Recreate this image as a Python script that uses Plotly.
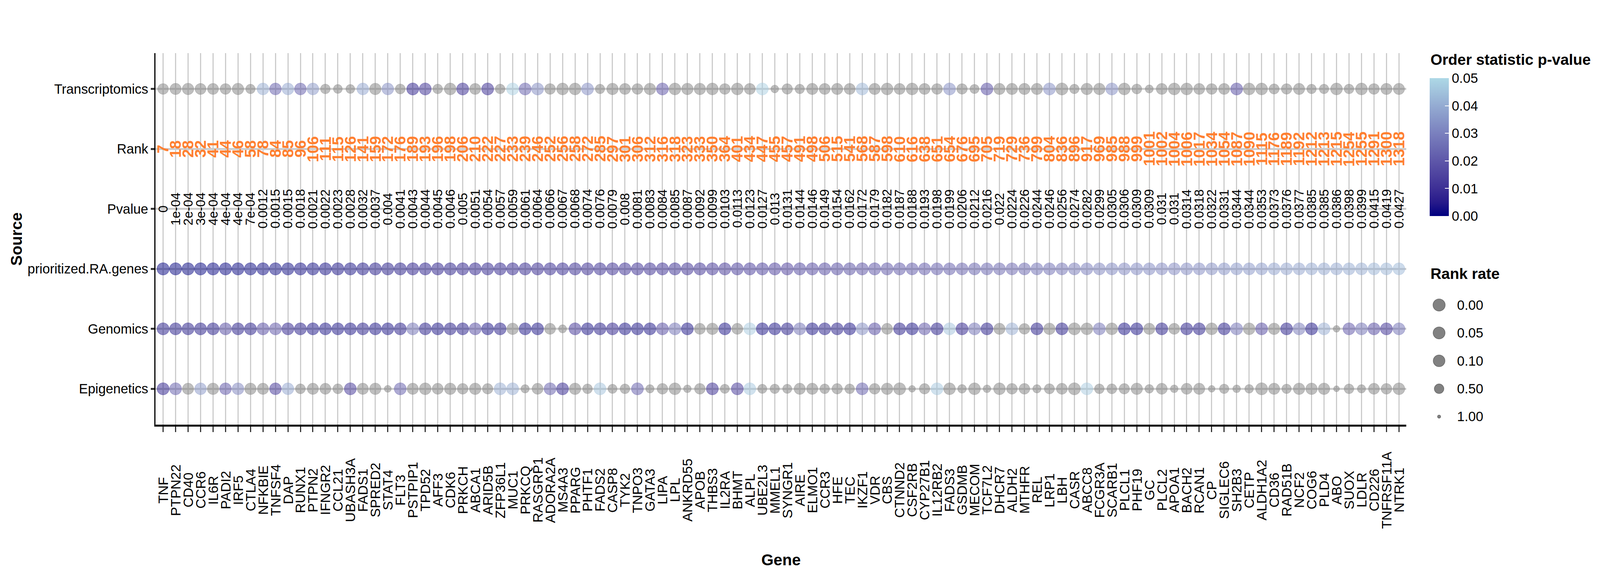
import numpy as np
import plotly.graph_objects as go

FONT = "Liberation Sans, Arial, sans-serif"

genes = ["TNF", "PTPN22", "CD40", "CCR6", "IL6R", "PADI2", "IRF5", "CTLA4", "NFKBIE", "TNFSF4",
         "DAP", "RUNX1", "PTPN2", "IFNGR2", "CCL21", "UBASH3A", "FADS1", "SPRED2", "STAT4", "FLT3",
         "PSTPIP1", "TPD52", "AFF3", "CDK6", "PRKCH", "ABCA1", "ARID5B", "ZFP36L1", "MUC1", "PRKCQ",
         "RASGRP1", "ADORA2A", "MS4A3", "PPARG", "PHTF1", "FADS2", "CASP8", "TYK2", "TNPO3", "GATA3",
         "LIPA", "LPL", "ANKRD55", "APOB", "THBS3", "IL2RA", "BHMT", "ALPL", "UBE2L3", "MMEL1",
         "SYNGR1", "AIRE", "ELMO1", "CCR3", "HFE", "TEC", "IKZF1", "VDR", "CBS", "CTNND2",
         "CSF2RB", "CYP27B1", "IL12RB2", "FADS3", "GSDMB", "MECOM", "TCF7L2", "DHCR7", "ALDH2", "MTHFR",
         "REL", "LRP1", "LBH", "CASR", "ABCC8", "FCGR3A", "SCARB1", "PLCL1", "PHF19", "GC",
         "PLCL2", "APOA1", "BACH2", "RCAN1", "CP", "SIGLEC6", "SH2B3", "CETP", "ALDH1A2", "CD36",
         "RAD51B", "NCF2", "COG6", "PLD4", "ABO", "SUOX", "LDLR", "CD226", "TNFRSF11A", "NTRK1"]

pvalue_labels = ["0", "1e-04", "2e-04", "3e-04", "4e-04", "4e-04", "4e-04", "7e-04", "0.0012", "0.0015",
                 "0.0015", "0.0018", "0.0021", "0.0022", "0.0023", "0.0028", "0.0032", "0.0037", "0.004", "0.0041",
                 "0.0043", "0.0044", "0.0045", "0.0046", "0.005", "0.0051", "0.0054", "0.0057", "0.0059", "0.0061",
                 "0.0064", "0.0066", "0.0067", "0.0068", "0.0074", "0.0076", "0.0079", "0.008", "0.0081", "0.0083",
                 "0.0084", "0.0085", "0.0087", "0.0092", "0.0099", "0.0103", "0.0113", "0.0123", "0.0127", "0.013",
                 "0.0131", "0.0144", "0.0146", "0.0149", "0.0154", "0.0162", "0.0172", "0.0179", "0.0182", "0.0187",
                 "0.0188", "0.0193", "0.0198", "0.0199", "0.0206", "0.0212", "0.0216", "0.022", "0.0224", "0.0226",
                 "0.0244", "0.0246", "0.0256", "0.0274", "0.0282", "0.0299", "0.0305", "0.0306", "0.0309", "0.0309",
                 "0.031", "0.031", "0.0314", "0.0318", "0.0322", "0.0331", "0.0344", "0.0344", "0.0353", "0.0373",
                 "0.0376", "0.0377", "0.0385", "0.0385", "0.0386", "0.0398", "0.0399", "0.0415", "0.0419", "0.0427"]

ranks = [7, 18, 28, 32, 41, 44, 46, 58, 78, 84,
         85, 96, 106, 111, 115, 126, 141, 159, 172, 176,
         189, 193, 196, 198, 206, 210, 222, 227, 233, 239,
         246, 252, 256, 258, 272, 285, 297, 301, 306, 312,
         316, 318, 323, 333, 350, 364, 401, 434, 447, 455,
         457, 491, 498, 506, 515, 541, 568, 587, 598, 610,
         616, 638, 651, 654, 676, 695, 705, 719, 729, 736,
         799, 804, 836, 896, 917, 969, 985, 988, 999, 1001,
         1002, 1004, 1006, 1017, 1034, 1054, 1087, 1090, 1115, 1176,
         1189, 1192, 1212, 1213, 1215, 1254, 1255, 1291, 1300, 1318]

# per-source order statistic p-values (None = not significant, drawn grey)
transcriptomics_p = [None, None, None, None, None, None, None, None, 0.04, 0.02,
                     0.038, 0.02, 0.035, None, None, None, 0.038, None, 0.032, None,
                     0.005, 0.008, None, None, 0.007, None, 0.007, None, 0.048, 0.02,
                     0.032, None, None, None, 0.032, None, None, None, None, None,
                     0.018, None, None, None, None, None, None, None, 0.048, None,
                     None, None, None, None, None, None, 0.042, None, None, None,
                     None, None, None, 0.032, None, None, 0.015, None, None, None,
                     None, 0.032, None, None, None, None, 0.032, None, None, None,
                     None, None, None, None, None, None, 0.015, None, None, None,
                     None, None, None, None, None, None, None, None, None, None]
transcriptomics_rate = [0.32, 0.22, 0.17, 0.27, 0.27, 0.32, 0.17, 0.54, 0.11, 0.11,
                        0.11, 0.11, 0.11, 0.50, 0.62, 0.62, 0.11, 0.17, 0.11, 0.46,
                        0.05, 0.05, 0.50, 0.11, 0.05, 0.27, 0.05, 0.50, 0.05, 0.05,
                        0.05, 0.32, 0.11, 0.11, 0.05, 0.54, 0.17, 0.27, 0.32, 0.17,
                        0.05, 0.11, 0.17, 0.17, 0.11, 0.32, 0.11, 0.27, 0.05, 0.75,
                        0.37, 0.54, 0.22, 0.27, 0.22, 0.27, 0.05, 0.22, 0.11, 0.27,
                        0.11, 0.27, 0.32, 0.05, 0.37, 0.58, 0.05, 0.22, 0.22, 0.22,
                        0.22, 0.05, 0.05, 0.54, 0.17, 0.17, 0.05, 0.11, 0.46, 0.72,
                        0.27, 0.11, 0.11, 0.27, 0.32, 0.27, 0.05, 0.11, 0.11, 0.42,
                        0.37, 0.22, 0.54, 0.54, 0.11, 0.50, 0.11, 0.32, 0.22, 0.22]

genomics_p = [0.004, 0.004, 0.004, 0.004, 0.004, 0.015, 0.004, 0.004, 0.015, 0.018,
              0.005, 0.004, 0.003, 0.003, 0.003, 0.003, 0.004, 0.003, 0.003, 0.004,
              0.025, 0.004, 0.003, 0.004, 0.004, 0.015, 0.003, 0.004, None, 0.003,
              0.003, None, None, 0.01, 0.003, 0.004, 0.005, 0.003, 0.003, 0.003,
              0.015, 0.025, 0.003, None, None, 0.003, None, 0.047, 0.003, 0.003,
              0.004, 0.025, 0.003, 0.004, 0.004, 0.003, 0.032, 0.015, None, 0.004,
              0.003, 0.018, 0.004, 0.045, 0.005, 0.025, 0.004, None, 0.04, None,
              0.004, None, 0.004, None, None, 0.025, None, 0.003, 0.003, None,
              0.004, None, 0.004, 0.004, None, 0.004, 0.025, None, 0.015, None,
              0.004, 0.027, 0.003, 0.04, None, 0.018, 0.025, 0.015, 0.008, 0.025]
genomics_rate = [0.05, 0.05, 0.05, 0.05, 0.05, 0.05, 0.05, 0.05, 0.05, 0.05,
                 0.05, 0.05, 0.05, 0.05, 0.05, 0.05, 0.05, 0.05, 0.05, 0.05,
                 0.05, 0.05, 0.05, 0.05, 0.05, 0.05, 0.05, 0.05, 0.17, 0.05,
                 0.05, 0.27, 0.72, 0.05, 0.05, 0.05, 0.05, 0.05, 0.05, 0.05,
                 0.05, 0.05, 0.05, 0.27, 0.17, 0.05, 0.27, 0.05, 0.05, 0.05,
                 0.05, 0.05, 0.05, 0.05, 0.05, 0.05, 0.05, 0.05, 0.27, 0.05,
                 0.05, 0.05, 0.05, 0.05, 0.05, 0.05, 0.05, 0.22, 0.05, 0.32,
                 0.05, 0.17, 0.05, 0.05, 0.11, 0.05, 0.11, 0.05, 0.05, 0.22,
                 0.05, 0.27, 0.05, 0.05, 0.11, 0.05, 0.05, 0.11, 0.05, 0.17,
                 0.05, 0.05, 0.05, 0.05, 0.85, 0.05, 0.05, 0.05, 0.05, 0.05]

epigenetics_p = [0.005, 0.02, None, 0.035, None, 0.018, 0.03, None, None, 0.01,
                 0.038, None, None, None, None, 0.01, None, None, None, 0.02,
                 None, None, None, None, None, None, None, 0.04, 0.04, None,
                 None, 0.02, 0.006, None, None, 0.045, None, None, 0.02, None,
                 None, None, None, None, 0.007, None, 0.01, 0.046, None, None,
                 None, None, None, None, None, None, 0.02, None, None, None,
                 None, None, 0.046, None, None, None, None, None, None, None,
                 None, None, None, None, 0.047, None, None, None, None, None,
                 None, None, None, None, None, None, None, None, None, None,
                 None, None, None, None, None, None, None, None, None, None]
epigenetics_rate = [0.05, 0.05, 0.22, 0.11, 0.17, 0.11, 0.11, 0.17, 0.22, 0.11,
                    0.11, 0.46, 0.22, 0.27, 0.46, 0.05, 0.22, 0.17, 0.83, 0.05,
                    0.22, 0.11, 0.27, 0.17, 0.32, 0.17, 0.37, 0.05, 0.05, 0.69,
                    0.27, 0.05, 0.05, 0.17, 0.50, 0.05, 0.58, 0.50, 0.05, 0.69,
                    0.32, 0.11, 0.75, 0.32, 0.05, 0.58, 0.05, 0.05, 0.58, 0.54,
                    0.58, 0.22, 0.22, 0.50, 0.37, 0.50, 0.05, 0.32, 0.17, 0.05,
                    0.85, 0.37, 0.05, 0.11, 0.65, 0.11, 0.75, 0.11, 0.32, 0.32,
                    0.69, 0.42, 0.27, 0.05, 0.05, 0.50, 0.46, 0.37, 0.17, 0.65,
                    0.27, 0.75, 0.27, 0.22, 0.85, 0.54, 0.75, 0.65, 0.05, 0.22,
                    0.54, 0.17, 0.17, 0.17, 0.91, 0.50, 0.69, 0.27, 0.32, 0.11]

prioritized_rate = [0.01, 0.01, 0.01, 0.01, 0.01, 0.01, 0.01, 0.01, 0.01, 0.01,
                    0.01, 0.01, 0.01, 0.01, 0.01, 0.01, 0.01, 0.01, 0.01, 0.01,
                    0.02, 0.02, 0.02, 0.02, 0.02, 0.02, 0.02, 0.02, 0.02, 0.02,
                    0.02, 0.02, 0.02, 0.02, 0.02, 0.02, 0.02, 0.02, 0.02, 0.02,
                    0.03, 0.03, 0.03, 0.03, 0.03, 0.03, 0.03, 0.03, 0.03, 0.03,
                    0.03, 0.03, 0.03, 0.03, 0.03, 0.03, 0.03, 0.03, 0.03, 0.03,
                    0.05, 0.05, 0.05, 0.05, 0.05, 0.05, 0.05, 0.05, 0.05, 0.05,
                    0.05, 0.05, 0.05, 0.05, 0.05, 0.05, 0.05, 0.05, 0.05, 0.05,
                    0.07, 0.07, 0.07, 0.07, 0.07, 0.07, 0.07, 0.07, 0.07, 0.07,
                    0.07, 0.07, 0.07, 0.07, 0.07, 0.07, 0.07, 0.07, 0.07, 0.07]

rows_top_down = ["Transcriptomics", "Rank", "Pvalue", "prioritized.RA.genes", "Genomics", "Epigenetics"]
pval_ticks = [0, 0.01, 0.02, 0.03, 0.04, 0.05]
size_breaks = [0, 0.05, 0.1, 0.5, 1.0]
size_break_labels = ["0.00", "0.05", "0.10", "0.50", "1.00"]

pvals = [float(s) for s in pvalue_labels]

# the browser viewport is ~4096 css px wide and 1500 tall (8 px body margin),
# so lay the chart out over that area using the reference's proportions
W, H = 4080, 1484
SX = W / 6000    # horizontal shrink vs. the 6000 px reference
FS = 0.72        # text scale


def px(x):  # reference x pixel -> paper fraction
    return x / 6000


def py(y):  # reference y pixel -> paper fraction
    return 1 - y / 1500


# navy -> lightblue gradient, interpolated in CIELAB like ggplot
M = np.array([[0.4124, 0.3576, 0.1805], [0.2126, 0.7152, 0.0722], [0.0193, 0.1192, 0.9505]])
WHITE = np.array([0.95047, 1.0, 1.08883])


def to_lab(hexc):
    rgb = np.array([int(hexc[i:i + 2], 16) for i in (1, 3, 5)]) / 255
    lin = np.where(rgb > 0.04045, ((rgb + 0.055) / 1.055) ** 2.4, rgb / 12.92)
    xyz = M @ lin / WHITE
    f = np.where(xyz > 0.008856, np.cbrt(xyz), 7.787 * xyz + 16 / 116)
    return np.array([116 * f[1] - 16, 500 * (f[0] - f[1]), 200 * (f[1] - f[2])])


def to_rgb(lab):
    fy = (lab[0] + 16) / 116
    f = np.array([fy + lab[1] / 500, fy, fy - lab[2] / 200])
    xyz = np.where(f > 0.2069, f ** 3, (f - 16 / 116) / 7.787) * WHITE
    lin = np.clip(np.linalg.solve(M, xyz), 0, 1)
    rgb = np.where(lin > 0.0031308, 1.055 * lin ** (1 / 2.4) - 0.055, 12.92 * lin)
    return np.round(rgb * 255).astype(int)


def ramp(alpha):
    lo, hi = to_lab("#000080"), to_lab("#ADD8E6")
    out = []
    for t in np.linspace(0, 1, 11):
        r, g, b = to_rgb(lo + (hi - lo) * t)
        out.append([t, f"rgba({r},{g},{b},{alpha})"])
    return out


LW = 1.4


def dot_size(rate):
    # reversed area scale: 1.00 -> 14 px, 0.00 -> 48 px at reference width
    return (14 + 34 * np.sqrt(1 - np.asarray(rate, dtype=float))) * SX - LW


point_rows = [("Transcriptomics", transcriptomics_p, transcriptomics_rate),
              ("prioritized.RA.genes", pvals, prioritized_rate),
              ("Genomics", genomics_p, genomics_rate),
              ("Epigenetics", epigenetics_p, epigenetics_rate)]

cx, cy, cp, cr = [], [], [], []
gx, gy, gr = [], [], []
for src, ps, rates in point_rows:
    for g, p, r in zip(genes, ps, rates):
        if p is None:
            gx.append(g); gy.append(src); gr.append(r)
        else:
            cx.append(g); cy.append(src); cp.append(p); cr.append(r)

GREY = "rgba(127,127,127,0.7)"

fig = go.Figure()
fig.add_trace(go.Scatter(
    x=gx, y=gy, mode="markers", hoverinfo="skip", showlegend=False,
    marker=dict(color=GREY, size=dot_size(gr), line=dict(width=LW, color=GREY)),
))
fig.add_trace(go.Scatter(
    x=cx, y=cy, mode="markers", hoverinfo="skip", showlegend=False,
    marker=dict(color=cp, colorscale=ramp(0.7), cmin=0, cmax=0.05, size=dot_size(cr),
                line=dict(width=LW, color=cp, colorscale=ramp(0.7), cmin=0, cmax=0.05)),
))
# colour bar (opaque, like the ggplot guide)
fig.add_trace(go.Scatter(
    x=[None], y=[None], mode="markers", hoverinfo="skip", showlegend=False,
    marker=dict(color=[0], colorscale=ramp(1), cmin=0, cmax=0.05, showscale=True,
                colorbar=dict(thickness=72 * SX, thicknessmode="pixels", len=357 * H / 1500, lenmode="pixels",
                              x=px(5370), xanchor="left", y=py(372.5), yanchor="middle",
                              xpad=0, ypad=0, outlinewidth=0,
                              tickvals=pval_ticks, ticktext=[f"{v:.2f}" for v in pval_ticks],
                              ticks="inside", ticklen=10, tickwidth=2, tickcolor="white",
                              tickfont=dict(size=48 * FS, family=FONT, color="black"))),
))
# size guide
fig.add_trace(go.Scatter(
    x=[0] * len(size_breaks), y=size_break_labels, xaxis="x2", yaxis="y2",
    mode="markers", hoverinfo="skip", showlegend=False,
    marker=dict(color="rgba(0,0,0,0.7)", size=dot_size(size_breaks),
                line=dict(width=LW, color="rgba(0,0,0,0.7)")),
))

ann = []
for g, pl, rk in zip(genes, pvalue_labels, ranks):
    ann.append(dict(x=g, y="Pvalue", xref="x", yref="y", text=pl, textangle=-90, showarrow=False,
                    xanchor="center", yanchor="middle",
                    font=dict(size=33, family=FONT, color="black")))
    ann.append(dict(x=g, y="Rank", xref="x", yref="y", text=f"<b>{rk}</b>", textangle=-90, showarrow=False,
                    xanchor="center", yanchor="middle",
                    font=dict(size=40, family=FONT, color="#FF8030")))
    ann.append(dict(x=g, y=py(1260), xref="x", yref="paper", text=g, textangle=-90, showarrow=False,
                    xanchor="center", yanchor="middle",
                    font=dict(size=35, family=FONT, color="black")))
for i, lab in enumerate(size_break_labels):
    ann.append(dict(x=px(5471), y=i, xref="paper", yref="y2", text=lab, xanchor="left", yanchor="middle",
                    showarrow=False, font=dict(size=48 * FS, family=FONT, color="black")))
ann += [
    dict(x=px((574 + 5283) / 2), y=py(1440), xref="paper", yref="paper", text="<b>Gene</b>",
         xanchor="center", yanchor="middle", showarrow=False,
         font=dict(size=56 * FS, family=FONT, color="black")),
    dict(x=px(51), y=py(610), xref="paper", yref="paper", text="<b>Source</b>", textangle=-90,
         xanchor="center", yanchor="middle", showarrow=False,
         font=dict(size=56 * FS, family=FONT, color="black")),
    dict(x=px(5371), y=py(146), xref="paper", yref="paper", text="<b>Order statistic p-value</b>",
         xanchor="left", yanchor="middle", showarrow=False,
         font=dict(size=54 * FS, family=FONT, color="black")),
    dict(x=px(5371), y=py(700), xref="paper", yref="paper", text="<b>Rank rate</b>",
         xanchor="left", yanchor="middle", showarrow=False,
         font=dict(size=54 * FS, family=FONT, color="black")),
]

fig.update_layout(
    width=W, height=H, autosize=False,
    margin=dict(l=0, r=0, t=0, b=0),
    paper_bgcolor="white", plot_bgcolor="white",
    font=dict(family=FONT, color="black"),
    annotations=ann,
    xaxis=dict(type="category", categoryorder="array", categoryarray=genes,
               domain=[px(574), px(5283)], range=[-0.6, len(genes) - 0.4],
               showticklabels=False, ticks="outside", ticklen=14, tickwidth=5 * SX, tickcolor="#333333",
               showline=True, linecolor="black", linewidth=5,
               showgrid=True, gridcolor="#CCCCCC", gridwidth=5 * SX, zeroline=False),
    yaxis=dict(type="category", categoryorder="array", categoryarray=rows_top_down[::-1],
               domain=[py(1091), py(129)], range=[-0.6, 5.6],
               ticks="outside", ticklen=13 * SX, tickwidth=5, tickcolor="#333333",
               tickfont=dict(size=49 * 0.7, family=FONT, color="black"),
               showline=True, linecolor="black", linewidth=5 * SX,
               showgrid=True, gridcolor="#CCCCCC", gridwidth=5, zeroline=False),
    xaxis2=dict(domain=[px(5376), px(5436)], range=[-1, 1], visible=False, anchor="y2"),
    yaxis2=dict(type="category", categoryorder="array", categoryarray=size_break_labels,
                domain=[py(1106), py(745)], range=[4.5, -0.5], visible=False, anchor="x2"),
)

fig.write_html("out.html")
